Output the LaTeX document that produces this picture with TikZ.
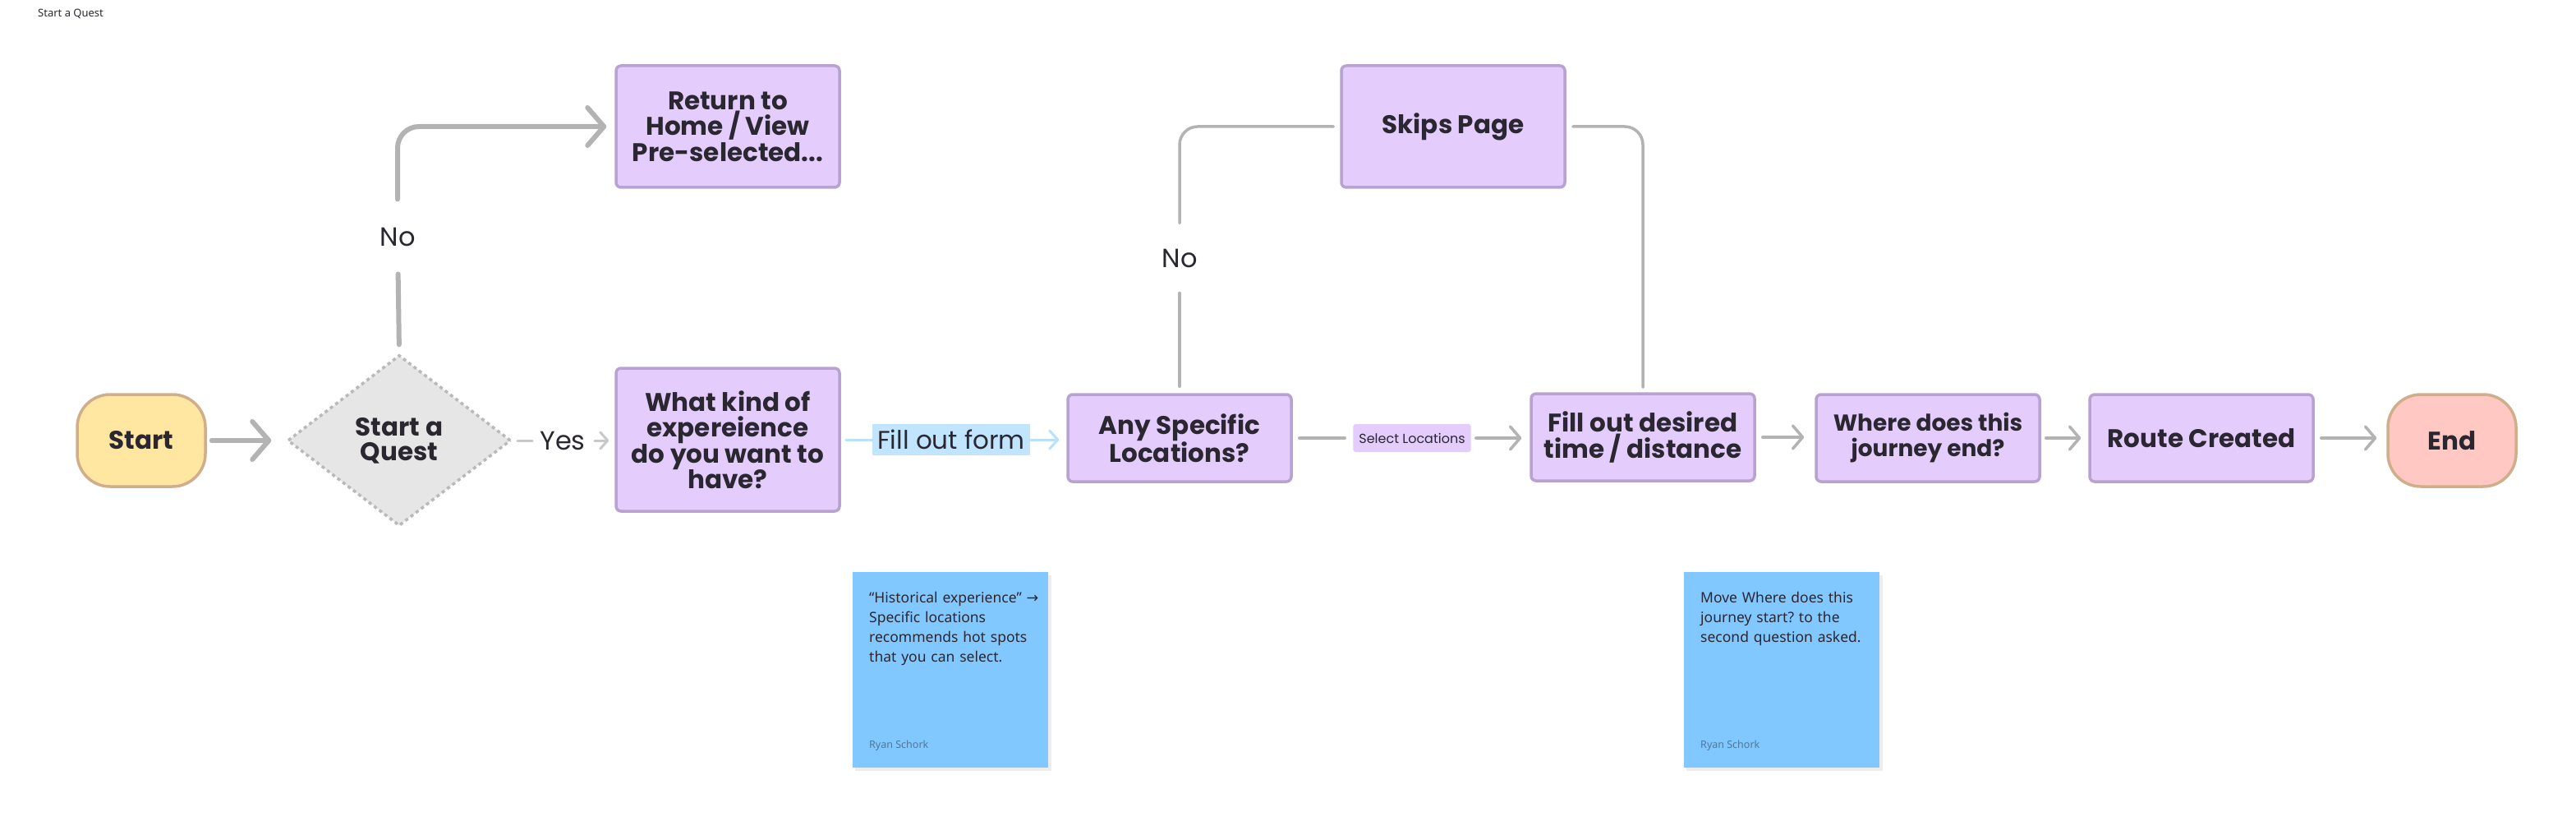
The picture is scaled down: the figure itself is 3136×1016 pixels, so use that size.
\documentclass[tikz,border=0pt]{standalone}
\usepackage{fontspec}
\setmainfont{Poppins}
\newfontfamily\notefont{Noto Sans}
\newfontfamily\symfont{DejaVu Sans}
\usetikzlibrary{positioning,arrows.meta,calc,shapes.geometric}
\frenchspacing

\definecolor{ink}{HTML}{2B2730}
\definecolor{boxfill}{HTML}{E4CCFD}
\definecolor{boxline}{HTML}{B8A2D0}
\definecolor{startfill}{HTML}{FFE7A1}
\definecolor{endfill}{HTML}{FFC8C2}
\definecolor{termline}{HTML}{D1AE8B}
\definecolor{qfill}{HTML}{E6E6E6}
\definecolor{qline}{HTML}{B9B9B9}
\definecolor{wire}{HTML}{B3B3B3}
\definecolor{wirelight}{HTML}{C9C9C9}
\definecolor{formblue}{HTML}{C2E5FF}
\definecolor{formline}{HTML}{B9E0FF}
\definecolor{notefill}{HTML}{80C8FF}
\definecolor{notename}{HTML}{52769A}

\begin{document}
\begin{tikzpicture}[x=1pt, y=-1pt,
  box/.style={draw=boxline, fill=boxfill, line width=3.5pt, rounded corners=6pt,
    minimum width=272pt, align=center, text=ink, inner sep=0pt,
    font=\fontsize{31}{31.5}\selectfont\bfseries},
  term/.style={box, draw=termline, rounded corners=40pt, minimum width=156pt, minimum height=112pt},
  dia/.style={diamond, aspect=1.3077, minimum width=272pt, minimum height=208pt,
    fill=qfill, draw=qline, line width=3.5pt, dash pattern=on 4pt off 4pt,
    align=center, text=ink, inner sep=0pt, font=\fontsize{31}{30}\selectfont\bfseries},
  lbl/.style={text=ink, inner sep=0pt, font=\fontsize{32}{32}\selectfont},
  bigarrow/.style={draw=wire, line width=6pt, line cap=round,
    -{Straight Barb[length=20pt,width=46pt,round]}},
  bigline/.style={draw=wire, line width=6pt, line cap=round},
  arrow/.style={draw=wire, line width=3.5pt, line cap=round,
    -{Straight Barb[length=12pt,width=28pt,round]}},
  line/.style={draw=wire, line width=3.5pt, line cap=round},
  note/.style={fill=notefill, minimum width=238pt, minimum height=238pt, inner sep=0pt},
  notetxt/.style={text=ink, text width=215pt, align=left, inner sep=0pt,
    font=\notefont\fontsize{17.5}{24}\selectfont},
  noteby/.style={text=notename, inner sep=0pt, font=\notefont\fontsize{12.5}{12.5}\selectfont}
]
\useasboundingbox (0,0) rectangle (3136,1016);
\fill[white] (0,0) rectangle (3136,1016);

% section title
\node[anchor=west, text=ink, inner sep=0pt, font=\notefont\fontsize{13}{13}\selectfont] (title) at (46,17) {Start a Quest};

% main row
\node[term, fill=startfill] (st) at (172,536) {Start};
\node[dia] (q) at (486,536) {Start a\\Quest};
\node[box, minimum height=174pt] (wk) at (886,535) {What kind of\\expereience\\do you want to\\have?};
\node[box, minimum height=106pt] (any) at (1436,533) {Any Specific\\Locations?};
\node[box, minimum height=106pt] (fod) at (2000,532) {Fill out desired\\time / distance};
\node[box, minimum height=106pt, font=\fontsize{28}{31}\selectfont\bfseries] (whr) at (2347,533) {Where does this\\journey end?};
\node[box, minimum height=106pt] (route) at (2680,533) {Route Created};
\node[term, fill=endfill] (en) at (2985,536) {End};

% upper row
\node[box, minimum height=148pt] (ret) at (886,154) {Return to\\Home / View\\Pre-selected...};
\node[box, minimum height=148pt] (skip) at (1769,154) {Skips Page};

% edge labels
\node[lbl] (no1) at (484,288) {No};
\node[lbl] (no2) at (1436,314) {No};
\node[lbl] (yes) at (685,536) {Yes};
\node[lbl, fill=formblue, minimum height=38pt, inner xsep=6pt, font=\fontsize{31}{31}\selectfont] (form) at (1158,535) {Fill out form};
\node[fill=boxfill, rounded corners=3pt, minimum height=34pt, inner xsep=7pt, inner ysep=0pt,
  text=ink, font=\fontsize{16}{16}\selectfont] (sel) at (1719,533) {Select Locations};

% connectors
\draw[bigarrow, shorten <=6pt, shorten >=18pt] (st) -- (q);
\draw[bigline, shorten <=11pt, shorten >=34pt] (q.north) -- (no1);
\draw[bigarrow, rounded corners=26pt, shorten <=34pt, shorten >=10pt] (no1) |- (ret.west);
\draw[line, draw=wirelight, line width=3pt, shorten <=6pt, shorten >=9pt] (q.east) -- (yes.west);
\draw[line, draw=wirelight, line width=3pt, shorten <=11pt, shorten >=7pt,
  -{Straight Barb[length=9pt,width=20pt,round]}] (yes.east) -- (yes.east -| wk.west);
\draw[line, draw=formline, line width=3pt, shorten <=6pt] (wk.east) -- (form.west);
\draw[line, draw=formline, line width=3pt, shorten >=9pt,
  -{Straight Barb[length=10pt,width=22pt,round]}] (form.east) -- (form.east -| any.west);
\draw[line, shorten <=8pt, shorten >=10pt] (any.east) -- (sel.west);
\draw[arrow, shorten <=6pt, shorten >=10pt] (sel.east) -- (sel.east -| fod.west);
\draw[arrow, shorten <=8pt, shorten >=13pt] (fod.east) -- (fod.east -| whr.west);
\draw[arrow, shorten <=6pt, shorten >=9pt] (whr.east) -- (route.west);
\draw[arrow, shorten <=8pt, shorten >=12pt] (route.east) -- (route.east -| en.west);

% skip loop
\draw[line, shorten <=8pt, shorten >=31pt] (any.north) -- (no2);
\draw[line, rounded corners=22pt, shorten <=31pt, shorten >=8pt] (no2) |- (skip.west);
\draw[line, rounded corners=22pt, shorten <=8pt, shorten >=6pt] (skip.east) -| (fod.north);

% sticky notes
\fill[black, opacity=0.07] (1041,700) rectangle (1280,938);
\node[note, anchor=north west] (n1) at (1038,696) {};
\node[notetxt, anchor=north west] (n1txt) at ($(n1.north west)+(20,24)$)
  {“Historical experience” {\symfont →}\\Specific locations\\recommends hot spots\\that you can select.};
\node[noteby, anchor=west] (n1by) at ($(n1.north west)+(20,211)$) {Ryan Schork};

\fill[black, opacity=0.07] (2053,700) rectangle (2292,938);
\node[note, anchor=north west] (n2) at (2050,696) {};
\node[notetxt, anchor=north west] (n2txt) at ($(n2.north west)+(20,24)$)
  {Move Where does this\\journey start? to the\\second question asked.};
\node[noteby, anchor=west] (n2by) at ($(n2.north west)+(20,211)$) {Ryan Schork};

\end{tikzpicture}
\end{document}
